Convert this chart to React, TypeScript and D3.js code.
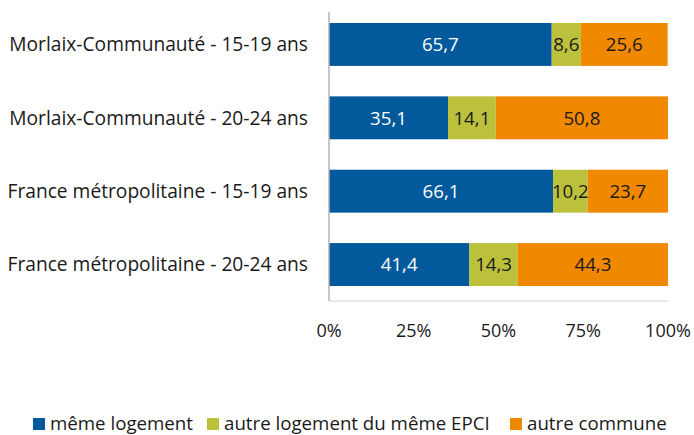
import React from "react";
import * as d3 from "d3";

const categories = [
  "Morlaix-Communauté - 15-19 ans",
  "Morlaix-Communauté - 20-24 ans",
  "France métropolitaine - 15-19 ans",
  "France métropolitaine - 20-24 ans",
];
const seriesNames = ["même logement", "autre logement du même EPCI", "autre commune"];
const memeLogement = [65.7, 35.1, 66.1, 41.4];
const autreLogementEpci = [8.6, 14.1, 10.2, 14.3];
const autreCommune = [25.6, 50.8, 23.7, 44.3];
const tickValues = [0, 25, 50, 75, 100];

const colors = ["#02599b", "#bcc13c", "#f08800"];
const textColors = ["#ffffff", "#1a1a1a", "#1a1a1a"];
const FONT = "'Open Sans', sans-serif";
const FS = 18.7;

export default function App() {
  const width = 694;
  const height = 435;
  const x = d3.scaleLinear().domain([0, 100]).range([329, 668]);
  const y = d3
    .scaleBand<string>()
    .domain(categories)
    .range([12, 297])
    .paddingInner(0.415)
    .paddingOuter(0.15);

  const rows = categories.map((c, i) => ({
    cat: c,
    s0: memeLogement[i],
    s1: autreLogementEpci[i],
    s2: autreCommune[i],
  }));
  const stack = d3.stack<any>().keys(["s0", "s1", "s2"]);
  const stacked = stack(rows);

  const fmt = (v: number) => v.toFixed(1).replace(".", ",");

  const legendX = [33, 207, 510];

  return (
    <svg
      width={width}
      height={height}
      style={{ position: "absolute", left: 0, top: 0, background: "#fff" }}
      fontFamily={FONT}
    >
      {stacked.map((layer, si) => (
        <g key={si}>
          {layer.map((d, i) => {
            const x0 = x(d[0]);
            const x1 = x(d[1]);
            const yy = y(categories[i])!;
            const bw = y.bandwidth();
            return (
              <g key={i}>
                <rect x={x0} y={yy} width={x1 - x0} height={bw} fill={colors[si]} />
                <text
                  x={(x0 + x1) / 2}
                  y={yy + bw / 2}
                  dy="0.36em"
                  textAnchor="middle"
                  fontSize={FS}
                  fill={textColors[si]}
                >
                  {fmt(d[1] - d[0])}
                </text>
              </g>
            );
          })}
        </g>
      ))}
      <line x1={329} x2={329} y1={12} y2={301} stroke="#b3b3b3" strokeWidth={1.5} />
      <line x1={329} x2={668} y1={301} y2={301} stroke="#d0d0d0" strokeWidth={1} />
      {categories.map((c) => (
        <text
          key={c}
          x={308}
          y={y(c)! + y.bandwidth() / 2}
          dy="0.36em"
          textAnchor="end"
          fontSize={19.2}
          fill="#1a1a1a"
        >
          {c}
        </text>
      ))}
      {tickValues.map((t) => (
        <text key={t} x={x(t)} y={337} textAnchor="middle" fontSize={18} fill="#1a1a1a">
          {t}%
        </text>
      ))}
      {seriesNames.map((n, i) => (
        <g key={n}>
          <rect x={legendX[i]} y={418} width={12} height={12} fill={colors[i]} />
          <text x={legendX[i] + 17} y={430} fontSize={FS} fill="#1a1a1a">
            {n}
          </text>
        </g>
      ))}
    </svg>
  );
}
